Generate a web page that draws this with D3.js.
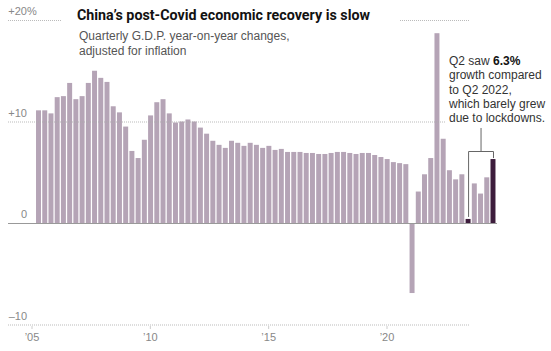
<!DOCTYPE html>
<html>
<head>
<meta charset="utf-8">
<script src="https://cdn.jsdelivr.net/npm/d3@7"></script>
<style>
  body { margin: 0; background: #fff; }
  svg { display: block; font-family: "Liberation Sans", Arial, sans-serif; }
</style>
</head>
<body>
<div id="chart"></div>
<script>
// quarterly year-on-year GDP growth, 2005 Q1 .. 2023 Q2
const quarters = [];
for (let y = 2005; y <= 2023; y++) {
    for (let q = 1; q <= 4; q++) {
        if (y === 2023 && q > 2) break;
        quarters.push(y + " Q" + q);
    }
}
const growth = [
    11.1, 11.1, 10.8, 12.4,
    12.5, 13.8, 12.2, 12.5,
    13.8, 15.0, 14.3, 13.9,
    11.5, 10.9, 9.5, 7.1,
    6.4, 8.2, 10.6, 11.9,
    12.2, 10.8, 9.9, 10.0,
    10.2, 10.0, 9.4, 8.8,
    8.1, 7.7, 7.4, 8.1,
    7.9, 7.6, 7.9, 7.7,
    7.4, 7.6, 7.2, 7.3,
    7.0, 7.0, 7.0, 6.9,
    6.9, 6.8, 6.8, 6.9,
    7.0, 7.0, 6.9, 6.8,
    6.9, 6.9, 6.7, 6.5,
    6.3, 6.0, 5.9, 5.8,
    -6.9, 3.1, 4.8, 6.4,
    18.7, 8.3, 5.2, 4.3,
    4.8, 0.4, 3.9, 2.9,
    4.5, 6.3
];
const highlighted = ["2022 Q2", "2023 Q2"];
const yTicks = [20, 10, 0, -10];
const yearTicks = [2005, 2010, 2015, 2020];

const data = quarters.map((q, i) => ({ q: q, v: growth[i] }));

const width = 551, height = 351;

const svg = d3.select("#chart")
    .append("svg")
    .attr("width", width)
    .attr("height", height);

// scales
const x = d3.scaleBand()
    .domain(quarters)
    .range([35.4, 496.1])
    .paddingInner(0.2)
    .paddingOuter(0.1);
const y = d3.scaleLinear()
    .domain([-10, 20])
    .range([324.5, 20]);
// year labels sit on their own scale in the original
const xYear = d3.scaleLinear()
    .domain([2005, 2020])
    .range([31.5, 386.5]);

// bars
svg.append("g")
    .selectAll("rect")
    .data(data)
    .join("rect")
    .attr("x", d => x(d.q))
    .attr("width", x.bandwidth())
    .attr("y", d => y(Math.max(0, d.v)))
    .attr("height", d => Math.abs(y(d.v) - y(0)))
    .attr("fill", d => highlighted.includes(d.q) ? "#3d1c3c" : "#b5a4b6");

// gridlines
svg.append("g")
    .selectAll("line")
    .data(yTicks.filter(d => d !== 0))
    .join("line")
    .attr("x1", 8)
    .attr("x2", 470)
    .attr("y1", d => y(d) + 0.5)
    .attr("y2", d => y(d) + 0.5)
    .attr("stroke", "#aaa")
    .attr("stroke-opacity", 0.8)
    .attr("stroke-dasharray", "1,1");

// zero baseline
svg.append("line")
    .attr("x1", 8)
    .attr("x2", 497)
    .attr("y1", y(0) + 0.5)
    .attr("y2", y(0) + 0.5)
    .attr("stroke", "#999");

// y labels
const yLab = svg.append("g")
    .attr("font-size", 11)
    .attr("fill", "#888");
yLab.selectAll("text.num")
    .data(yTicks)
    .join("text")
    .attr("class", "num")
    .attr("x", 27)
    .attr("y", d => y(d) - 5)
    .attr("text-anchor", "end")
    .text(d => d > 0 ? "+" + d : d < 0 ? "\u2013" + Math.abs(d) : "0");
yLab.append("text")
    .attr("x", 27)
    .attr("y", y(20) - 5)
    .text("%");

// x axis
const xAxis = d3.axisBottom(xYear)
    .tickValues(yearTicks)
    .tickSize(3)
    .tickPadding(4)
    .tickFormat(d => "\u2019" + String(d).slice(2));
const gx = svg.append("g")
    .attr("transform", "translate(0,326)")
    .call(xAxis);
gx.select(".domain").remove();
gx.selectAll(".tick line").attr("stroke", "#ccc");
gx.selectAll(".tick text")
    .attr("fill", "#888")
    .attr("font-size", 11)
    .attr("font-family", "Liberation Sans, Arial, sans-serif");

// title block (white backing hides gridline)
svg.append("rect")
    .attr("x", 62).attr("y", 4)
    .attr("width", 338).attr("height", 54)
    .attr("fill", "#fff");
svg.append("text")
    .attr("x", 77)
    .attr("y", 20)
    .attr("font-size", 14.5)
    .attr("font-weight", "bold")
    .attr("font-family", "Roboto, Liberation Sans, Arial, sans-serif")
    .attr("fill", "#121212")
    .attr("textLength", 293)
    .attr("lengthAdjust", "spacingAndGlyphs")
    .text("China\u2019s post-Covid economic recovery is slow");
svg.append("text")
    .attr("font-size", 12)
    .attr("fill", "#555")
    .selectAll("tspan")
    .data(["Quarterly G.D.P. year-on-year changes,", "adjusted for inflation"])
    .join("tspan")
    .attr("x", 79)
    .attr("y", (d, i) => 40 + i * 14.5)
    .text(d => d);

// annotation
svg.append("rect")
    .attr("x", 446).attr("y", 52)
    .attr("width", 105).attr("height", 74)
    .attr("fill", "#fff");
const note = svg.append("text")
    .attr("font-size", 12)
    .attr("fill", "#333");
const noteLines = ["growth compared", "to Q2 2022,", "which barely grew", "due to lockdowns."];
const l1 = note.append("tspan").attr("x", 449).attr("y", 65);
l1.append("tspan").text("Q2 saw ");
l1.append("tspan").attr("font-weight", "bold").attr("fill", "#121212").text("6.3%");
noteLines.forEach((t, i) => {
    note.append("tspan").attr("x", 449).attr("y", 65 + (i + 1) * 14.3).text(t);
});

// bracket
const xa = x("2022 Q2") + x.bandwidth() / 2;
const xb = x("2023 Q2") + x.bandwidth() / 2;
const yBr = 151;
const br = svg.append("g")
    .attr("stroke", "#666")
    .attr("fill", "none");
br.append("path")
    .attr("d", `M${xa + 0.5},${y(0.4) - 2}V${yBr + 0.5}H${xb + 0.5}V${y(6.3) - 1}`);
br.append("line")
    .attr("x1", (xa + xb) / 2 + 0.5)
    .attr("x2", (xa + xb) / 2 + 0.5)
    .attr("y1", 128)
    .attr("y2", yBr);
</script>
</body>
</html>
